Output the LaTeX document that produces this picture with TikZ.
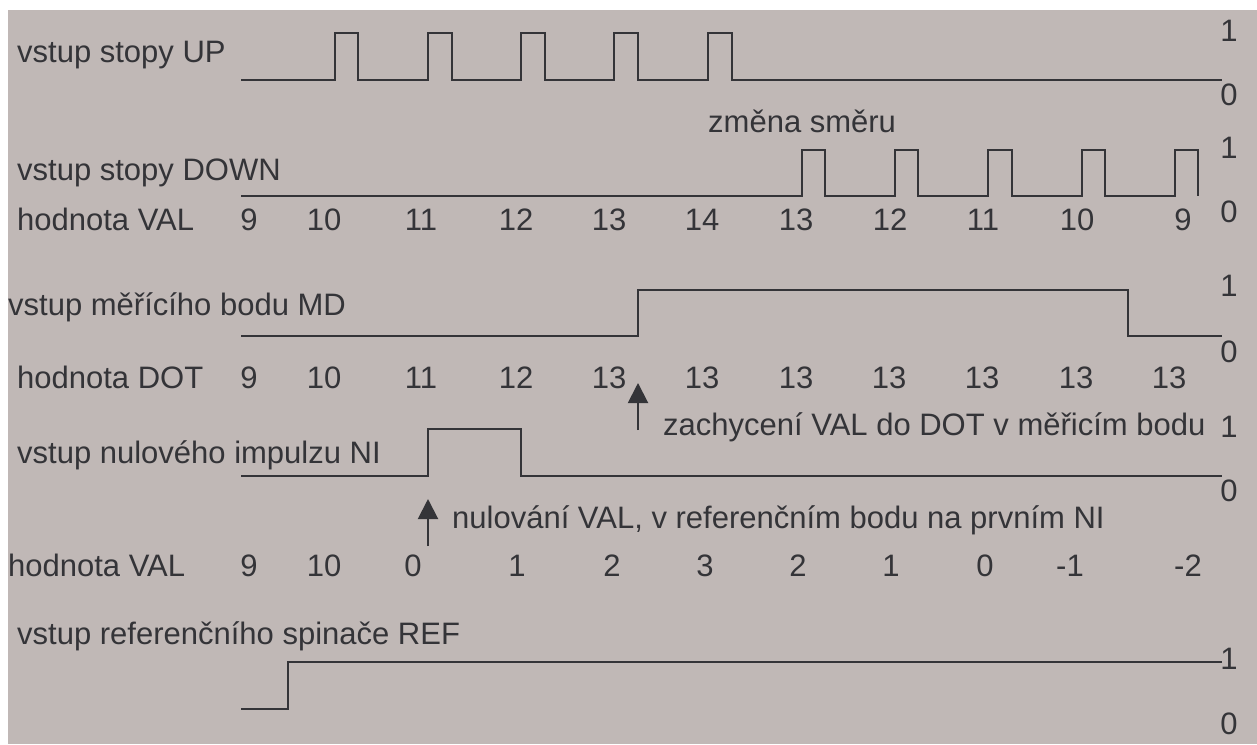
\documentclass[tikz,border=0pt]{standalone}
\usepackage{fontspec}
\setmainfont{Liberation Sans}
\usetikzlibrary{arrows.meta}
\definecolor{panel}{RGB}{192,184,182}
\definecolor{ink}{RGB}{52,52,56}
\begin{document}
\begin{tikzpicture}[x=1pt,y=-1pt,
  txt/.style={inner sep=0pt,text=ink,font=\fontsize{31}{36}\selectfont},
  lbl/.style={txt,anchor=base west},
  num/.style={txt,anchor=base},
  wave/.style={draw=ink,line width=2pt,line join=miter},
  marker/.style={draw=ink,line width=2pt,-{Triangle[width=20pt,length=20pt]}}]
% page and panel
\useasboundingbox (0,0) rectangle (1257,744);
\fill[white] (0,0) rectangle (1257,744);
\fill[panel] (8,10) rectangle (1257,744);

% ---- counting input UP ----
\node[lbl] (lup) at (17,62) {vstup stopy UP};
\draw[wave] (241,80) -- (335,80) -- (335,33) -- (358,33) -- (358,80)
  -- (428,80) -- (428,33) -- (452,33) -- (452,80)
  -- (521,80) -- (521,33) -- (545,33) -- (545,80)
  -- (614,80) -- (614,33) -- (638,33) -- (638,80)
  -- (708,80) -- (708,33) -- (732,33) -- (732,80) -- (1222,80);
\node[num] (up1) at (1229,41) {1};
\node[num] (up0) at (1229,105) {0};

\node[lbl] (dirchg) at (708,132) {změna směru};

% ---- counting input DOWN ----
\node[lbl] (ldown) at (17,180) {vstup stopy DOWN};
\draw[wave] (241,196) -- (802,196) -- (802,150) -- (825,150) -- (825,196)
  -- (895,196) -- (895,150) -- (918,150) -- (918,196)
  -- (988,196) -- (988,150) -- (1012,150) -- (1012,196)
  -- (1082,196) -- (1082,150) -- (1105,150) -- (1105,196)
  -- (1175,196) -- (1175,150) -- (1198,150) -- (1198,196);
\node[num] (dn1) at (1229,158) {1};
\node[num] (dn0) at (1229,222) {0};

% ---- counter value ----
\node[lbl] (lval) at (17,230) {hodnota VAL};
\foreach \v/\x in {9/249,10/324,11/421,12/516,13/609,14/702,13/796,12/890,11/983,10/1077,9/1183}
  \node[num] at (\x,230) {\v};

% ---- measuring point input MD ----
\node[lbl] (lmd) at (8,315) {vstup měřícího bodu MD};
\draw[wave] (241,336) -- (638,336) -- (638,290) -- (1128,290) -- (1128,336) -- (1222,336);
\node[num] (md1) at (1229,296) {1};
\node[num] (md0) at (1229,362) {0};

% ---- latched value DOT ----
\node[lbl] (ldot) at (17,388) {hodnota DOT};
\foreach \v/\x in {9/249,10/324,11/421,12/516,13/609,13/702,13/796,13/889,13/982,13/1076,13/1169}
  \node[num] at (\x,388) {\v};

\coordinate (latchA) at (638,430);
\coordinate (latchB) at (638,383);
\draw[marker] (latchA) -- (latchB);
\node[lbl] (latchtxt) at (663,435) {zachycení VAL do DOT v měřicím bodu};

% ---- zero pulse input NI ----
\node[lbl] (lni) at (17,463) {vstup nulového impulzu NI};
\draw[wave] (241,476) -- (428,476) -- (428,429) -- (521,429) -- (521,476) -- (1222,476);
\node[num] (ni1) at (1229,437) {1};
\node[num] (ni0) at (1229,501) {0};

\coordinate (zeroA) at (428,546);
\coordinate (zeroB) at (428,499);
\draw[marker] (zeroA) -- (zeroB);
\node[lbl] (zerotxt) at (452,528) {nulování VAL, v referenčním bodu na prvním NI};

% ---- counter value after zeroing ----
\node[lbl] (lval2) at (8,576) {hodnota VAL};
\foreach \v/\x in {9/249,10/324,0/413,1/517,2/612,3/705,2/798,1/891,0/985,-1/1070,-2/1188}
  \node[num] at (\x,576) {\v};

% ---- reference switch input REF ----
\node[lbl] (lref) at (17,644) {vstup referenčního spinače REF};
\draw[wave] (241,709) -- (288,709) -- (288,662) -- (1222,662);
\node[num] (ref1) at (1229,669) {1};
\node[num] (ref0) at (1229,734) {0};
\end{tikzpicture}
\end{document}
